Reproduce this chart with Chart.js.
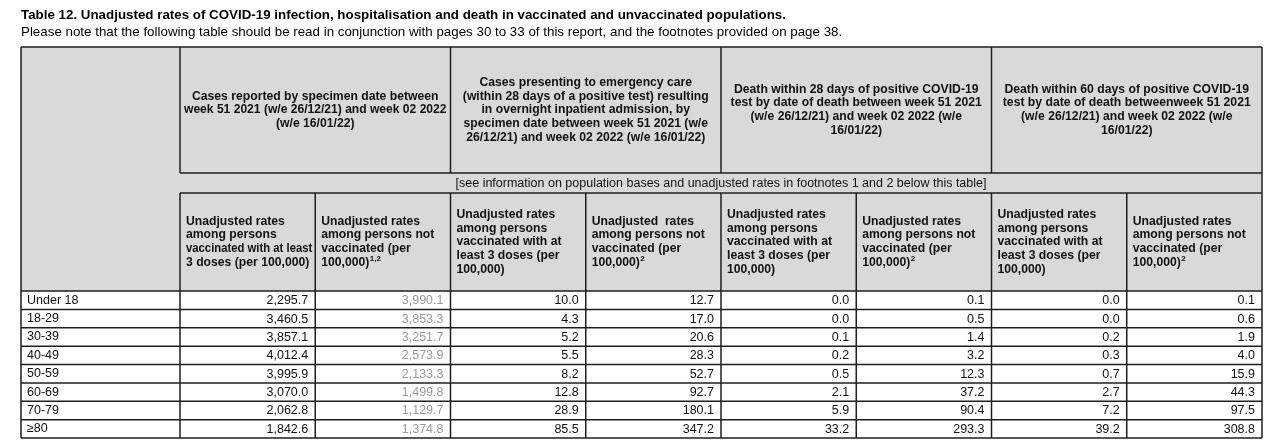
<!DOCTYPE html>
<html>
<head>
<meta charset="utf-8">
<title>Table 12 - unadjusted rates</title>
<script src="https://cdn.jsdelivr.net/npm/chart.js@4.4.1/dist/chart.umd.min.js"></script>
<style>
  html, body { margin: 0; padding: 0; background: #fff; }
  #wrap { position: relative; width: 1269px; height: 442px; }
</style>
</head>
<body>
<div id="wrap"><canvas id="rateTable"></canvas></div>
<script>
const ageGroups = ["Under 18", "18-29", "30-39", "40-49", "50-59", "60-69", "70-79", "≥80"];

const casesVacc = [2295.7, 3460.5, 3857.1, 4012.4, 3995.9, 3070.0, 2062.8, 1842.6];
const casesUnvacc = [3990.1, 3853.3, 3251.7, 2573.9, 2133.3, 1499.8, 1129.7, 1374.8];
const hospVacc = [10.0, 4.3, 5.2, 5.5, 8.2, 12.8, 28.9, 85.5];
const hospUnvacc = [12.7, 17.0, 20.6, 28.3, 52.7, 92.7, 180.1, 347.2];
const death28Vacc = [0.0, 0.0, 0.1, 0.2, 0.5, 2.1, 5.9, 33.2];
const death28Unvacc = [0.1, 0.5, 1.4, 3.2, 12.3, 37.2, 90.4, 293.3];
const death60Vacc = [0.0, 0.0, 0.2, 0.3, 0.7, 2.7, 7.2, 39.2];
const death60Unvacc = [0.1, 0.6, 1.9, 4.0, 15.9, 44.3, 97.5, 308.8];

const columnKeys = ["casesVacc", "casesUnvacc", "hospVacc", "hospUnvacc",
  "death28Vacc", "death28Unvacc", "death60Vacc", "death60Unvacc"];
const columnValues = [casesVacc, casesUnvacc, hospVacc, hospUnvacc,
  death28Vacc, death28Unvacc, death60Vacc, death60Unvacc];

const titleText = "Table 12. Unadjusted rates of COVID-19 infection, hospitalisation and death in vaccinated and unvaccinated populations.";
const subtitleText = "Please note that the following table should be read in conjunction with pages 30 to 33 of this report, and the footnotes provided on page 38.";
const footnoteRow = "[see information on population bases and unadjusted rates in footnotes 1 and 2 below this table]";

const groupHeaders = [
  ["Cases reported by specimen date between", "week 51 2021 (w/e 26/12/21) and week 02 2022", "(w/e 16/01/22)"],
  ["Cases presenting to emergency care", "(within 28 days of a positive test) resulting", "in overnight inpatient admission, by",
    "specimen date between week 51 2021 (w/e", "26/12/21) and week 02 2022 (w/e 16/01/22)"],
  ["Death within 28 days of positive COVID-19", "test by date of death between week 51 2021", "(w/e 26/12/21) and week 02 2022 (w/e", "16/01/22)"],
  ["Death within 60 days of positive COVID-19", "test by date of death betweenweek 51 2021", "(w/e 26/12/21) and week 02 2022 (w/e", "16/01/22)"]
];

// "^" marks a superscript footnote reference
const columnHeaders = [
  ["Unadjusted rates", "among persons", "vaccinated with at least", "3 doses (per 100,000)"],
  ["Unadjusted rates", "among persons not", "vaccinated (per", "100,000)^1,2"],
  ["Unadjusted rates", "among persons", "vaccinated with at", "least 3 doses (per", "100,000)"],
  ["Unadjusted  rates", "among persons not", "vaccinated (per", "100,000)^2"],
  ["Unadjusted rates", "among persons", "vaccinated with at", "least 3 doses (per", "100,000)"],
  ["Unadjusted rates", "among persons not", "vaccinated (per", "100,000)^2"],
  ["Unadjusted rates", "among persons", "vaccinated with at", "least 3 doses (per", "100,000)"],
  ["Unadjusted rates", "among persons not", "vaccinated (per", "100,000)^2"]
];

const fontFamily = '"Liberation Sans", Arial, Helvetica, sans-serif';

function formatRate(v) {
  return v.toLocaleString("en-GB", { minimumFractionDigits: 1, maximumFractionDigits: 1 });
}

function drawLine(ctx, x1, y1, x2, y2) {
  ctx.beginPath();
  ctx.moveTo(x1, y1);
  ctx.lineTo(x2, y2);
  ctx.stroke();
}

// draws one header line, with an optional superscript after "^"
function drawHeaderLine(ctx, text, x, y, align, maxW) {
  const parts = text.split("^");
  ctx.font = `bold 12.2px ${fontFamily}`;
  if (parts.length === 1) {
    ctx.textAlign = align;
    ctx.fillText(text, x, y, maxW);
    return;
  }
  ctx.textAlign = "left";
  ctx.fillText(parts[0], x, y);
  const w = ctx.measureText(parts[0]).width;
  ctx.font = `bold 8px ${fontFamily}`;
  ctx.fillText(parts[1], x + w + 0.5, y - 4);
}

const tablePlugin = {
  id: "tableDrawing",
  afterDatasetsDraw(chart) {
    const ctx = chart.ctx;
    const xs = chart.scales.x;
    const half = (xs.right - xs.left) / columnKeys.length / 2;
    ctx.save();
    ctx.font = `12.5px ${fontFamily}`;
    ctx.textAlign = "right";
    ctx.textBaseline = "middle";
    chart.data.datasets.forEach((ds, c) => {
      const meta = chart.getDatasetMeta(c);
      ctx.fillStyle = ds.textColor;
      meta.data.forEach((pt, i) => {
        ctx.fillText(formatRate(ds.data[i].v), pt.x + half - 7, pt.y + 0.5);
      });
    });
    ctx.restore();
  },
  afterDraw(chart) {
    const { ctx, chartArea } = chart;
    const xs = chart.scales.x;
    const ys = chart.scales.y;
    const n = columnKeys.length;
    const colW = (xs.right - xs.left) / n;
    const rowH = (ys.bottom - ys.top) / ageGroups.length;
    const tableLeft = ys.left - 6;
    const tableRight = xs.right;
    const subTop = chartArea.top - 98;
    const infoTop = subTop - 20;
    const groupTop = infoTop - 126;
    const bottom = chartArea.bottom;

    ctx.save();
    ctx.textBaseline = "middle";

    // title lines
    ctx.fillStyle = "#000";
    ctx.textAlign = "left";
    ctx.font = `bold 13.35px ${fontFamily}`;
    ctx.fillText(titleText, tableLeft, 15);
    ctx.font = `13.35px ${fontFamily}`;
    ctx.fillText(subtitleText, tableLeft, 32);

    // grey header block
    ctx.fillStyle = "#d9d9d9";
    ctx.fillRect(tableLeft, groupTop, tableRight - tableLeft, chartArea.top - groupTop);

    // borders
    ctx.strokeStyle = "#1e1e1e";
    ctx.lineWidth = 1.5;
    drawLine(ctx, tableLeft, groupTop, tableRight, groupTop);
    drawLine(ctx, xs.left, infoTop, tableRight, infoTop);
    drawLine(ctx, xs.left, subTop, tableRight, subTop);
    for (let j = 0; j <= ageGroups.length; j++) {
      const y = chartArea.top + j * rowH;
      drawLine(ctx, tableLeft, y, tableRight, y);
    }
    drawLine(ctx, tableLeft, groupTop, tableLeft, bottom);
    for (let k = 0; k <= n; k++) {
      const x = xs.left + k * colW;
      if (k % 2 === 0) {
        drawLine(ctx, x, groupTop, x, infoTop);
      }
      drawLine(ctx, x, subTop, x, bottom);
    }
    drawLine(ctx, tableRight, infoTop, tableRight, subTop);

    // header texts
    ctx.fillStyle = "#111";
    const lh = 13.8;
    groupHeaders.forEach((lines, g) => {
      const cx = xs.left + (g * 2 + 1) * colW;
      const cy = (groupTop + infoTop) / 2;
      lines.forEach((line, i) => {
        drawHeaderLine(ctx, line, cx, cy - (lines.length - 1) * lh / 2 + i * lh, "center", colW * 2 - 8);
      });
    });
    ctx.font = `12.5px ${fontFamily}`;
    ctx.textAlign = "center";
    ctx.fillText(footnoteRow, (xs.left + tableRight) / 2, (infoTop + subTop) / 2 + 0.5);
    columnHeaders.forEach((lines, c) => {
      const x = xs.left + c * colW + 6;
      const cy = (subTop + chartArea.top) / 2;
      lines.forEach((line, i) => {
        drawHeaderLine(ctx, line, x, cy - (lines.length - 1) * lh / 2 + i * lh, "left", colW - 9);
      });
    });
    ctx.restore();
  }
};

const datasets = columnKeys.map((key, c) => ({
  label: key,
  data: ageGroups.map((g, i) => ({ x: key, y: g, v: columnValues[c][i] })),
  pointRadius: 0,
  pointHoverRadius: 0,
  textColor: key === "casesUnvacc" ? "#9b9b9b" : "#111"
}));

new Chart(document.getElementById("rateTable"), {
  type: "scatter",
  data: { datasets: datasets },
  options: {
    responsive: true,
    maintainAspectRatio: false,
    animation: false,
    events: [],
    layout: { padding: { left: 27, right: 7, top: 0, bottom: 4 } },
    plugins: {
      legend: { display: false },
      tooltip: { enabled: false }
    },
    scales: {
      x: {
        type: "category",
        labels: columnKeys,
        position: "top",
        offset: true,
        grid: { display: false },
        border: { display: false },
        ticks: { display: false },
        afterFit(scale) { scale.height = 291; }
      },
      y: {
        type: "category",
        labels: ageGroups,
        offset: true,
        grid: { display: false },
        border: { display: false },
        ticks: {
          autoSkip: false,
          crossAlign: "far",
          padding: 0,
          color: "#111",
          font: { family: fontFamily, size: 12.5 }
        },
        afterFit(scale) {
          scale.width = 153;
          scale.paddingTop = 0;
          scale.paddingBottom = 0;
        }
      }
    }
  },
  plugins: [tablePlugin]
});
</script>
</body>
</html>
